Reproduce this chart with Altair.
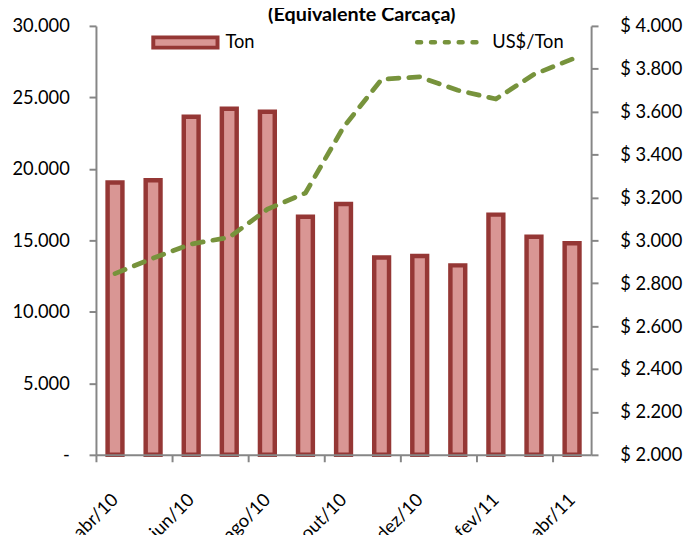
import altair as alt
import pandas as pd

# ---------------- data ----------------
months = ["abr/10", "mai/10", "jun/10", "jul/10", "ago/10", "set/10", "out/10",
          "nov/10", "dez/10", "jan/11", "fev/11", "mar/11", "abr/11"]
ton = [19050, 19200, 23650, 24200, 24000, 16650, 17550,
       13800, 13900, 13250, 16800, 15250, 14800]
usd_ton = [2845, 2917, 2983, 3014, 3145, 3221, 3528,
           3751, 3762, 3700, 3659, 3774, 3845]
tick_months = months[::2]
left_ticks = [0, 5000, 10000, 15000, 20000, 25000, 30000]
right_ticks = [2000, 2200, 2400, 2600, 2800, 3000, 3200, 3400, 3600, 3800, 4000]
title_text = "(Equivalente Carcaça)"
legend_labels = ["Ton", "US$/Ton"]

df = pd.DataFrame({"mes": months, "Ton": ton, "USD": usd_ton})
one = pd.DataFrame({"k": [0]})

FONT = "Lato"
FS = 18.5
GRAY = "#868686"
BAR_FILL = "#D99694"
BAR_STROKE = "#953735"
LINE_COLOR = "#77933C"

x_enc = alt.X(
    "mes:N", sort=months, title=None,
    scale=alt.Scale(paddingInner=0, paddingOuter=0),
    axis=alt.Axis(values=tick_months, bandPosition=0, labelAngle=-45,
                  labelAlign="right", labelBaseline="middle",
                  labelPadding=35, tickSize=7, tickWidth=2, domainWidth=2,
                  tickColor=GRAY, domainColor=GRAY, labelFont=FONT,
                  labelFontSize=FS, labelColor="#000", grid=False, zindex=1),
)

bars = alt.Chart(df).mark_bar(
    width=15, fill=BAR_FILL, stroke=BAR_STROKE, strokeWidth=4.5
).encode(
    x=x_enc,
    y=alt.Y("Ton:Q", title=None,
            scale=alt.Scale(domain=[0, 30000], nice=False),
            axis=alt.Axis(values=left_ticks, orient="left", tickSize=7,
                          tickWidth=2, domainWidth=2, tickColor=GRAY,
                          domainColor=GRAY, labelPadding=20, labelFont=FONT,
                          labelFontSize=FS, labelColor="#000", grid=False,
                          labelExpr="datum.value == 0 ? '-\u00a0\u00a0\u00a0' : replace(format(datum.value, ','), ',', '.')")),
)

line = alt.Chart(df).mark_line(
    color=LINE_COLOR, strokeWidth=4.8, strokeDash=[11, 10], strokeCap="round",
    strokeJoin="round"
).encode(
    x=x_enc,
    y=alt.Y("USD:Q", title=None,
            scale=alt.Scale(domain=[2000, 4000], nice=False),
            axis=alt.Axis(values=right_ticks, orient="right", tickSize=7,
                          tickWidth=2, domainWidth=2, tickColor=GRAY,
                          domainColor=GRAY, labelPadding=22, labelFont=FONT,
                          labelFontSize=FS, labelColor="#000", grid=False,
                          labelExpr="'$ ' + replace(format(datum.value, ','), ',', '.')")),
)

# title (partly cut at the top, as in the original)
title = alt.Chart(one).mark_text(
    text=title_text, font=FONT, fontSize=20, fontWeight="bold",
    align="center", baseline="alphabetic", color="#000"
).encode(x=alt.value(269), y=alt.value(-5))

# legend
leg_rect = alt.Chart(one).mark_rect(
    fill=BAR_FILL, stroke=BAR_STROKE, strokeWidth=4
).encode(x=alt.value(58), x2=alt.value(123), y=alt.value(11.6), y2=alt.value(22))

leg_rule = alt.Chart(one).mark_rule(
    color=LINE_COLOR, strokeWidth=4.5, strokeDash=[4, 10], strokeCap="round"
).encode(x=alt.value(325), x2=alt.value(386), y=alt.value(16.5))

leg_t1 = alt.Chart(one).mark_text(
    text=legend_labels[0], font=FONT, fontSize=FS, align="left",
    baseline="middle", color="#000"
).encode(x=alt.value(131), y=alt.value(16.8))

leg_t2 = alt.Chart(one).mark_text(
    text=legend_labels[1], font=FONT, fontSize=FS, align="left",
    baseline="middle", color="#000"
).encode(x=alt.value(401), y=alt.value(16.8))

chart = alt.layer(
    bars, line, title, leg_rect, leg_rule, leg_t1, leg_t2
).resolve_scale(y="independent").properties(
    width=501, height=434,
    padding={"left": 89, "top": 15, "right": 95, "bottom": 78},
    autosize=alt.AutoSizeParams(type="none"),
).configure_view(stroke=None)

chart.save("out.html", embed_options={"renderer": "svg", "actions": False})
